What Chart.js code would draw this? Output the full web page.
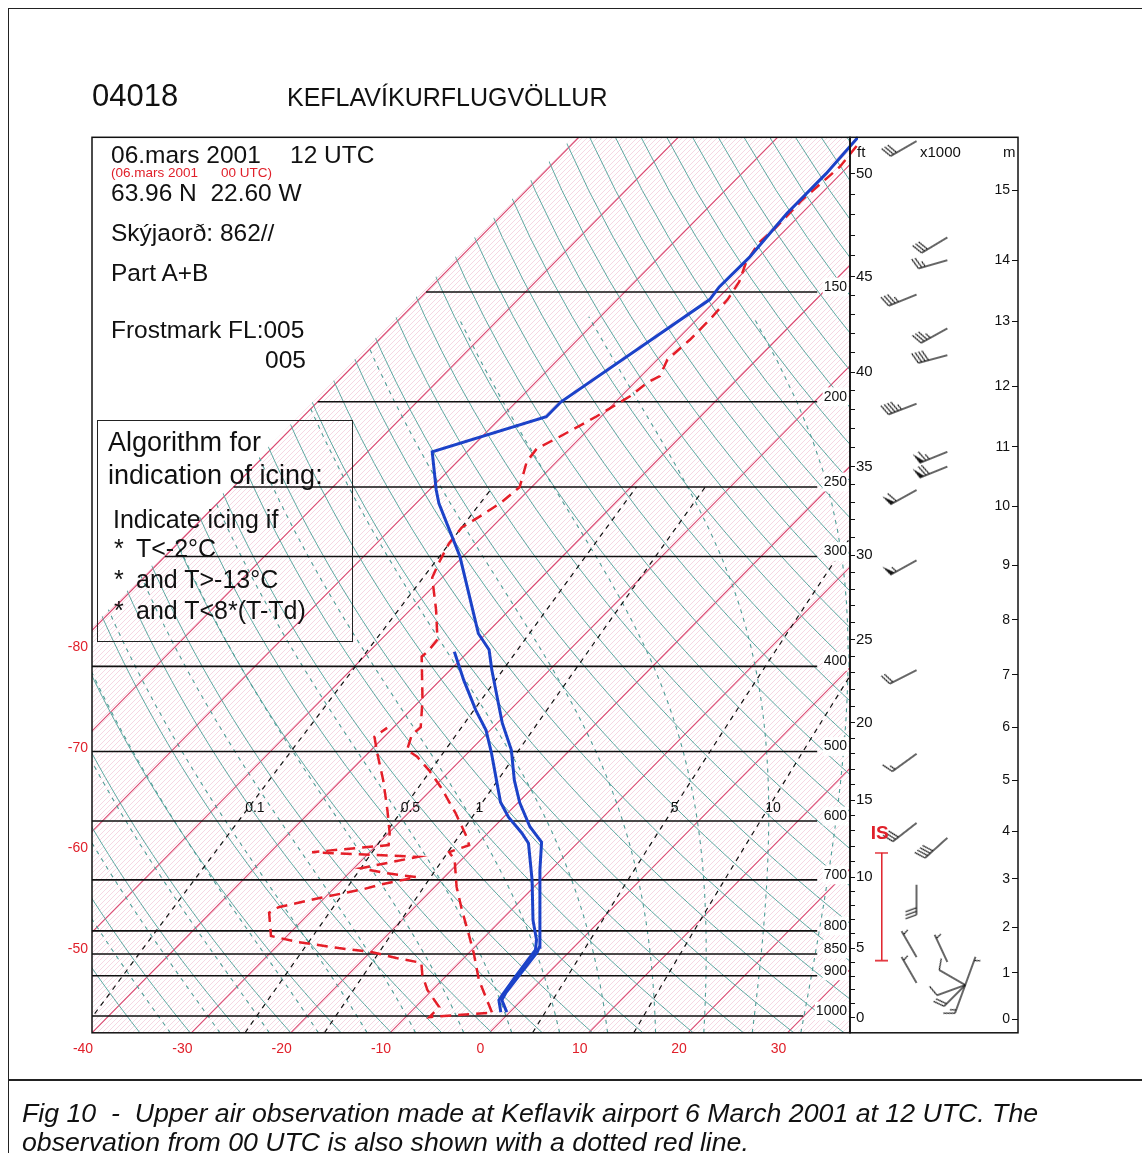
<!DOCTYPE html>
<html>
<head>
<meta charset="utf-8">
<script src="https://cdn.jsdelivr.net/npm/chart.js@4.4.1/dist/chart.umd.min.js"></script>
<style>
  html, body { margin: 0; padding: 0; background: #fff; }
  #page { position: relative; width: 1142px; height: 1153px; overflow: hidden; font-family: "Liberation Sans", Arial, sans-serif; color: #111; }
  #skewt { position: absolute; left: 0; top: 0; }
  .t { position: absolute; white-space: nowrap; line-height: 1; }
  .red { color: #e0202a; }
  #frame { position: absolute; left: 8px; top: 8px; width: 1200px; height: 1200px; border-left: 1.5px solid #222; border-top: 1.5px solid #222; }
  #sep { position: absolute; left: 8px; top: 1079px; width: 1200px; height: 0; border-top: 2px solid #222; }
  #algo { position: absolute; left: 97px; top: 420px; width: 254px; height: 220px; border: 1.5px solid #222; }
  .cap { font-style: italic; font-size: 26.7px; }
</style>
</head>
<body>
<div id="page">
  <div id="frame"></div>
  <div id="sep"></div>
  <canvas id="skewt" width="1142" height="1153"></canvas>

  <div class="t" style="left:92px; top:80px; font-size:31px;">04018</div>
  <div class="t" style="left:287px; top:85px; font-size:25px;">KEFLAVÍKURFLUGVÖLLUR</div>

  <div class="t" style="left:111px; top:143px; font-size:24.5px;">06.mars 2001</div>
  <div class="t" style="left:290px; top:143px; font-size:24.5px;">12 UTC</div>
  <div class="t red" style="left:111px; top:166px; font-size:13.5px;">(06.mars 2001</div>
  <div class="t red" style="left:221px; top:166px; font-size:13.5px;">00 UTC)</div>
  <div class="t" style="left:111px; top:181px; font-size:24.5px;">63.96 N&nbsp;&nbsp;22.60 W</div>
  <div class="t" style="left:111px; top:221px; font-size:24.5px;">Skýjaorð: 862//</div>
  <div class="t" style="left:111px; top:261px; font-size:24.5px;">Part A+B</div>
  <div class="t" style="left:111px; top:318px; font-size:24.5px;">Frostmark FL:005</div>
  <div class="t" style="left:265px; top:348px; font-size:24.5px;">005</div>

  <div id="algo"></div>
  <div class="t" style="left:108px; top:429px; font-size:27px;">Algorithm for</div>
  <div class="t" style="left:108px; top:462px; font-size:27px;">indication of icing:</div>
  <div class="t" style="left:113px; top:507px; font-size:25px;">Indicate icing if</div>
  <div class="t" style="left:114px; top:536px; font-size:25px;">*</div>
  <div class="t" style="left:136px; top:536px; font-size:25px;">T&lt;-2°C</div>
  <div class="t" style="left:114px; top:567px; font-size:25px;">*</div>
  <div class="t" style="left:136px; top:567px; font-size:25px;">and T&gt;-13°C</div>
  <div class="t" style="left:114px; top:598px; font-size:25px;">*</div>
  <div class="t" style="left:136px; top:598px; font-size:25px;">and T&lt;8*(T-Td)</div>

  <div class="t" style="left:857px; top:144px; font-size:15px;">ft</div>
  <div class="t" style="left:920px; top:144px; font-size:15px;">x1000</div>
  <div class="t" style="left:1003px; top:144px; font-size:15px;">m</div>

  <div class="t cap" style="left:22px; top:1100px;">Fig 10&nbsp; -&nbsp; Upper air observation made at Keflavik airport 6 March 2001 at 12 UTC. The</div>
  <div class="t cap" style="left:22px; top:1129px;">observation from 00 UTC is also shown with a dotted red line.</div>
</div>

<script>
// 12 UTC sounding (blue): pressure hPa, temperature degC
const temp12P = [990, 959, 942, 898, 846, 835, 682, 634, 609, 572, 539, 498, 464, 404, 383, 367, 300, 261, 252, 228, 208, 200, 153, 148, 137, 122, 110, 100];
const temp12T = [-0.3, -2.0, -2.3, -2.7, -3.2, -3.5, -11.1, -13.7, -16.4, -19.8, -22.6, -25.9, -29.5, -35.8, -38.1, -40.8, -50.3, -57.7, -59.3, -63.5, -55.5, -55.5, -50.7, -51.0, -50.9, -51.5, -51.5, -51.9];
const dew12P = [990, 959, 942, 898, 841, 819, 778, 700, 636, 619, 594, 571, 539, 502, 473, 449, 415, 385];
const dew12T = [-0.9, -2.3, -2.5, -3.0, -3.6, -4.5, -6.8, -10.9, -14.9, -16.6, -19.5, -21.8, -24.4, -27.6, -30.4, -33.4, -37.6, -41.4];

// 00 UTC sounding (red dashed)
const temp00P = [990, 910, 848, 805, 757, 713, 664, 651, 639, 626, 588, 549, 525, 507, 498, 479, 469, 437, 390, 385,
  373, 345, 317, 305, 290, 278, 269, 260, 250, 234, 226, 220, 208, 197, 190, 187, 179, 170, 161, 153, 146, 139, 132, 127, 118, 108, 102];
const temp00T = [-1.8, -6.3, -9.5, -12.0, -15.0, -17.8, -20.7, -22.0, -20.7, -21.7, -25.2, -29.3, -32.2, -34.7, -36.4, -37.4, -37.3, -39.8, -44.2, -44.1,
  -44.3, -47.4, -51.0, -51.8, -52.7, -53.0, -52.2, -51.5, -51.2, -53.0, -53.3, -52.3, -50.5, -49.1, -48.7, -48.1, -49.0, -48.7, -48.7, -48.9, -49.5, -50.7, -51.4, -51.2, -51.3, -50.8, -51.2];
const dew00P = [992, 1003, 977, 934, 898, 870, 859, 846, 837, 824, 811, 763, 752, 734, 717, 708, 695, 688, 679, 659, 651, 639, 619, 583, 539, 502, 481, 470];
const dew00T = [-2.2, -7.6, -7.6, -10.5, -12.5, -13.8, -16.8, -19.8, -23.6, -28.2, -31.6, -34.1, -33.7, -30.5, -26.9, -25.6, -22.8, -26.2, -29.3, -24.7, -35.8, -28.8, -29.9, -32.4, -35.8, -39.1, -41.0, -40.6];

// winds: pressure, direction (deg), speed (kt)
const windAP = [101, 151, 201, 252, 303, 404, 503, 603, 709, 857, 917];
const windADir = [240, 248, 249, 241, 241, 243, 234, 232, 180, 330, 330];
const windASpd = [30, 35, 45, 60, 55, 20, 15, 30, 30, 5, 5];
const windBP = [130, 138, 165, 177, 228, 237, 627, 868];
const windBDir = [239, 254, 241, 255, 248, 248, 228, 335];
const windBSpd = [30, 25, 35, 40, 65, 70, 40, 5];
const windCP = [922, 922, 922, 922, 922];
const windCDir = [200, 225, 250, 300, 20];
const windCSpd = [15, 20, 10, 10, 5];

// icing layer (hPa)
const icingP = [864, 652];

// diagram grid and axis labels
const isobarLevels = [150, 200, 250, 300, 400, 500, 600, 700, 800, 850, 900, 1000];
const isothermLevels = [-80, -70, -60, -50, -40, -30, -20, -10, 0, 10, 20, 30];
const isothermLabels = [-80, -70, -60, -50];
const bottomTicks = [-40, -30, -20, -10, 0, 10, 20, 30];
const mixingRatios = [0.1, 0.5, 1, 5, 10];
const ftLabels = [0, 5, 10, 15, 20, 25, 30, 35, 40, 45, 50];
const ftPressure = [1005, 837, 695, 568, 464, 373, 299, 237, 185, 144, 110];
const mLabels = [0, 1, 2, 3, 4, 5, 6, 7, 8, 9, 10, 11, 12, 13, 14, 15];
const mPressure = [1008, 893, 792, 698, 616, 539, 469, 409, 354, 307, 263, 225, 192, 162, 138, 115];

const K = 37.93;          // skew (degC per ln p)
const P_BOTTOM = 1045, P_TOP = 100;
const X_MIN = -40, X_MAX = 36.3;
const FONT = '"Liberation Sans", Arial, sans-serif';

function skewX(t, p) { return t + K * Math.log(P_BOTTOM / p); }
function pts(ps, ts) { return ps.map((p, i) => ({ x: skewX(ts[i], p), y: p })); }
function mixingT(w, p) { const e = w * p / (622 + w); const l = Math.log(e / 6.112); return 243.5 * l / (17.67 - l); }

function moistLine(t1000) {
  const Rd = 287.04, Cp = 1005.7, Lv = 2.501e6, eps = 0.622;
  const rate = (tk, p) => {
    const e = 6.112 * Math.exp(17.67 * (tk - 273.15) / (tk - 29.65));
    const rs = eps * e / (p - e);
    return (Rd * tk + Lv * rs) / (p * (Cp + Lv * Lv * rs * eps / (Rd * tk * tk)));
  };
  const step = (t, p, dp) => { const k1 = rate(t, p); const k2 = rate(t + 0.5 * dp * k1, p + 0.5 * dp); return t + dp * k2; };
  const out = [];
  let t = t1000 + 273.15;
  for (let p = 1000; p < P_BOTTOM; p += 5) t = step(t, p, 5);
  out.push({ x: skewX(t - 273.15, P_BOTTOM), y: P_BOTTOM });
  t = t1000 + 273.15;
  out.push({ x: skewX(t1000, 1000), y: 1000 });
  for (let p = 1000; p > 160; p -= 5) {
    t = step(t, p, -5);
    if ((p - 5) % 20 === 0) out.push({ x: skewX(t - 273.15, p - 5), y: p - 5 });
  }
  return out;
}

function barbGlyph(speed) {
  const c = document.createElement('canvas');
  c.width = 84; c.height = 84;
  const g = c.getContext('2d');
  const cx = 42, cy = 42, len = 30;
  g.strokeStyle = '#151515'; g.fillStyle = '#151515'; g.lineWidth = 1.3;
  g.beginPath(); g.moveTo(cx, cy); g.lineTo(cx, cy - len); g.stroke();
  let s = Math.round(speed / 5) * 5, y = cy - len;
  while (s >= 50) { g.beginPath(); g.moveTo(cx, y); g.lineTo(cx + 11, y - 3); g.lineTo(cx, y + 5); g.closePath(); g.fill(); y += 7; s -= 50; }
  while (s >= 10) { g.beginPath(); g.moveTo(cx, y); g.lineTo(cx + 11, y - 4); g.stroke(); y += 3.5; s -= 10; }
  if (s >= 5) { if (y === cy - len) y += 4; g.beginPath(); g.moveTo(cx, y); g.lineTo(cx + 6, y - 2); g.stroke(); }
  return c;
}

function capGlyph() {
  const c = document.createElement('canvas');
  c.width = 13; c.height = 3;
  const g = c.getContext('2d');
  g.fillStyle = '#e0202a'; g.fillRect(0, 1, 13, 1.5);
  return c;
}

function barbDataset(ps, dirs, spds, column) {
  return {
    data: ps.map(p => ({ x: column, y: p })), indexAxis: 'y', showLine: false,
    pointStyle: spds.map(barbGlyph), pointRotation: dirs, pointRadius: 130, clip: false, order: 0
  };
}

const datasets = [];
datasets.push({ data: pts(temp12P, temp12T), borderColor: 'rgb(28,66,200)', borderWidth: 3, pointRadius: 0, clip: 8, order: 0 });
datasets.push({ data: pts(dew12P, dew12T), borderColor: 'rgb(28,66,200)', borderWidth: 3, pointRadius: 0, clip: 8, order: 0 });
datasets.push({ data: pts(temp00P, temp00T), borderColor: 'rgb(228,30,40)', borderWidth: 2.5, borderDash: [11, 7], pointRadius: 0, clip: 8, order: 0 });
datasets.push({ data: pts(dew00P, dew00T), borderColor: 'rgb(228,30,40)', borderWidth: 2.5, borderDash: [11, 7], pointRadius: 0, clip: 8, order: 0 });

datasets.push(barbDataset(windAP, windADir, windASpd, 43.0));
datasets.push(barbDataset(windBP, windBDir, windBSpd, 46.1));
datasets.push(barbDataset(windCP, windCDir, windCSpd, 47.9));

datasets.push({
  data: icingP.map(p => ({ x: 39.5, y: p })), indexAxis: 'y', borderColor: '#e0202a', borderWidth: 1.5,
  pointStyle: capGlyph(), pointRadius: 60, clip: false, order: 0
});

isobarLevels.forEach(p => {
  const xEnd = p === 1000 ? 31.6 : 33.0;
  datasets.push({ data: [{ x: Math.max(X_MIN, skewX(-80, p)), y: p }, { x: xEnd, y: p }],
    borderColor: '#111', borderWidth: 1.6, pointRadius: 0, order: 1 });
});
mixingRatios.forEach(w => {
  const ps = []; for (let p = P_BOTTOM; p >= 250; p -= 15) ps.push(p);
  datasets.push({ data: ps.map(p => ({ x: skewX(mixingT(w, p), p), y: p })), borderColor: '#111', borderWidth: 1.2,
    borderDash: [5, 5], pointRadius: 0, order: 2, grid: true });
});
for (let t = -35; t <= 35; t += 5) {
  datasets.push({ data: moistLine(t), borderColor: 'rgb(80,158,152)', borderWidth: 1.1, borderDash: [4, 5], pointRadius: 0, order: 3, grid: true });
}
for (let th = 230; th <= 425; th += 5) {
  const d = []; for (let p = P_BOTTOM; p >= P_TOP; p -= 15) d.push({ x: skewX(th * Math.pow(p / 1000, 0.2857) - 273.15, p), y: p });
  datasets.push({ data: d, borderColor: 'rgb(95,168,162)', borderWidth: 1, pointRadius: 0, order: 4, grid: true });
}
isothermLevels.forEach(t => {
  datasets.push({ data: [{ x: skewX(t, P_BOTTOM), y: P_BOTTOM }, { x: skewX(t, P_TOP), y: P_TOP }],
    borderColor: 'rgb(218,72,112)', borderWidth: 1.1, pointRadius: 0, order: 5, grid: true });
});

function regionPath(chart, ctx) {
  const xs = chart.scales.x, ys = chart.scales.y;
  const x1 = xs.getPixelForValue(skewX(-80.4, P_BOTTOM)), y1 = ys.getPixelForValue(P_BOTTOM);
  const x2 = xs.getPixelForValue(skewX(-80.4, P_TOP)), y2 = ys.getPixelForValue(P_TOP);
  ctx.beginPath();
  ctx.moveTo(x1, y1 + 2); ctx.lineTo(x2, y2 - 2); ctx.lineTo(2000, y2 - 2); ctx.lineTo(2000, y1 + 2); ctx.closePath();
}

function hatchPattern(ctx) {
  const c = document.createElement('canvas');
  c.width = 5; c.height = 5;
  const g = c.getContext('2d');
  g.strokeStyle = 'rgba(236,170,195,0.6)'; g.lineWidth = 0.8;
  g.beginPath(); g.moveTo(-1, 6); g.lineTo(6, -1); g.moveTo(-1, 1); g.lineTo(1, -1); g.moveTo(4, 6); g.lineTo(6, 4); g.stroke();
  return ctx.createPattern(c, 'repeat');
}

const skewPlugin = {
  id: 'skew',
  beforeDatasetsDraw(chart) {
    const { ctx, chartArea: a } = chart;
    ctx.save();
    ctx.beginPath(); ctx.rect(a.left, a.top, a.right - a.left, a.bottom - a.top); ctx.clip();
    regionPath(chart, ctx);
    ctx.fillStyle = hatchPattern(ctx);
    ctx.fill();
    ctx.restore();
  },
  beforeDatasetDraw(chart, args) {
    if (chart.data.datasets[args.index].grid) { chart.ctx.save(); regionPath(chart, chart.ctx); chart.ctx.clip(); }
  },
  afterDatasetDraw(chart, args) {
    if (chart.data.datasets[args.index].grid) chart.ctx.restore();
  },
  afterDraw(chart) {
    const { ctx, chartArea: a } = chart;
    const xs = chart.scales.x, ys = chart.scales.y;
    ctx.save();
    ctx.strokeStyle = '#111'; ctx.lineWidth = 1.5;
    ctx.strokeRect(a.left, a.top, a.right - a.left, a.bottom - a.top);
    ctx.strokeRect(a.right, a.top, chart.scales.yM.left - a.right, a.bottom - a.top);
    // mixing ratio labels
    ctx.fillStyle = '#111'; ctx.font = '14px ' + FONT; ctx.textBaseline = 'middle'; ctx.textAlign = 'left';
    mixingRatios.forEach(w => {
      const p = 580;
      ctx.fillText(String(w), xs.getPixelForValue(skewX(mixingT(w, p), p)) - 3, ys.getPixelForValue(p));
    });
    // icing label
    ctx.fillStyle = '#e0202a'; ctx.font = 'bold 19px ' + FONT; ctx.textAlign = 'center';
    ctx.fillText('IS', xs.getPixelForValue(39.5) - 2, ys.getPixelForValue(icingP[1]) - 19);
    ctx.restore();
  }
};

function ftTicks() {
  const out = [];
  for (let i = 0; i < ftPressure.length - 1; i++) {
    const a = Math.log(ftPressure[i]), b = Math.log(ftPressure[i + 1]);
    for (let j = 0; j < 5; j++) out.push(Math.exp(a + (b - a) * j / 5));
  }
  out.push(ftPressure[ftPressure.length - 1]);
  return out;
}

Chart.defaults.font.family = FONT;
const logAxis = { type: 'logarithmic', reverse: true, min: P_TOP, max: P_BOTTOM, bounds: 'data' };

new Chart(document.getElementById('skewt'), {
  type: 'line',
  data: { datasets },
  plugins: [skewPlugin],
  options: {
    responsive: false, animation: false, devicePixelRatio: 1, events: [],
    layout: { autoPadding: false, padding: { top: 137.3, bottom: 90.2, left: 0, right: 0 } },
    plugins: { legend: { display: false }, tooltip: { enabled: false } },
    scales: {
      x: {
        type: 'linear', min: X_MIN, max: X_MAX, bounds: 'data', position: 'bottom',
        grid: { display: false, drawTicks: false }, border: { display: false },
        afterBuildTicks: s => { s.ticks = bottomTicks.map(v => ({ value: v })); },
        afterFit: s => { s.height = 30; },
        ticks: { color: '#e0202a', font: { size: 14 }, padding: 8, labelOffset: -9, maxRotation: 0, autoSkip: false }
      },
      y: Object.assign({}, logAxis, {
        position: 'right', weight: 0,
        grid: { display: false, drawTicks: false }, border: { display: false },
        afterBuildTicks: s => { s.ticks = isobarLevels.map(v => ({ value: v })); },
        afterFit: s => { s.width = 0; },
        ticks: { mirror: true, padding: -3, labelOffset: -5, z: 1, autoSkip: false, color: '#111', font: { size: 14 },
          showLabelBackdrop: true, backdropColor: '#fff', backdropPadding: 1,
          callback: (v, i) => String(isobarLevels[i]) }
      }),
      yIso: Object.assign({}, logAxis, {
        position: 'left', weight: 0,
        grid: { display: false, drawTicks: false }, border: { display: false },
        afterBuildTicks: s => { s.ticks = isothermLabels.map(t => ({ value: P_BOTTOM * Math.exp((t - X_MIN) / K) })); },
        afterFit: s => { s.width = 92; },
        ticks: { padding: 4, labelOffset: 17, autoSkip: false, color: '#e0202a', font: { size: 14 },
          callback: (v, i) => String(isothermLabels[i]) }
      }),
      yFt: Object.assign({}, logAxis, {
        position: 'right', weight: 1,
        grid: { drawOnChartArea: false, tickLength: 5, color: '#111' }, border: { display: false },
        afterBuildTicks: s => { s.ticks = ftTicks().map(v => ({ value: v })); },
        afterFit: s => { s.width = 168; },
        ticks: { padding: 1, autoSkip: false, color: '#111', font: { size: 15 },
          callback: (v, i) => (i % 5 === 0 ? String(i) : '') }
      }),
      yM: Object.assign({}, logAxis, {
        position: 'right', weight: 2,
        grid: { drawOnChartArea: false, tickLength: -6, color: '#111' }, border: { display: false },
        afterBuildTicks: s => { s.ticks = mPressure.map(v => ({ value: v })); },
        afterFit: s => { s.width = 124; },
        ticks: { mirror: true, padding: -8, autoSkip: false, color: '#111', font: { size: 14 },
          callback: (v, i) => String(mLabels[i]) }
      })
    }
  }
});
</script>
</body>
</html>
